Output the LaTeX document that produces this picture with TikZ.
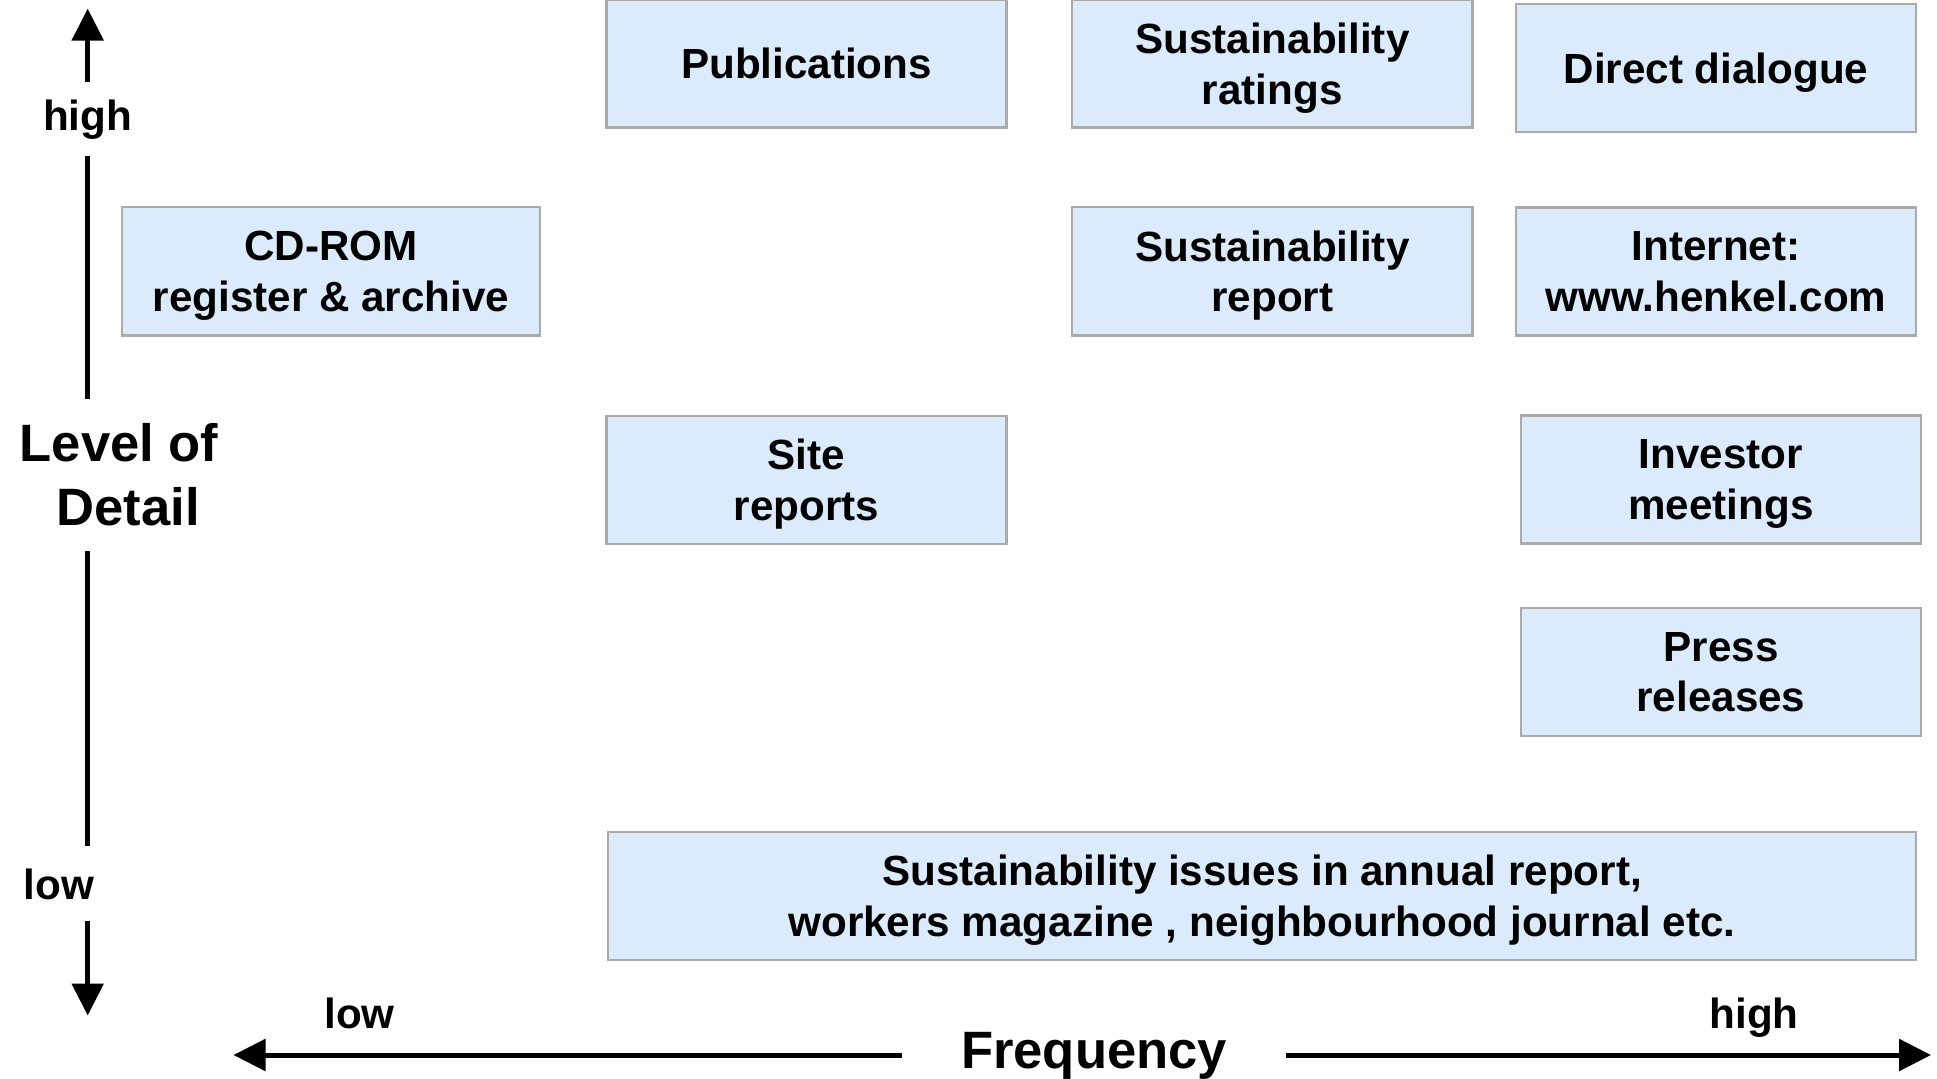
\documentclass[tikz,border=0pt]{standalone}
\usepackage{fontspec}
\setmainfont{Liberation Sans}
\usetikzlibrary{arrows.meta}
\definecolor{boxblue}{RGB}{220,235,251}
\definecolor{boxline}{RGB}{170,170,170}

\begin{document}
\begin{tikzpicture}[x=0.025cm,y=-0.025cm,
  channel/.style={draw=boxline,line width=0.06cm,fill=boxblue,minimum width=10cm,
    minimum height=3.2cm,align=center,inner sep=0pt,text depth=-0.1cm,
    font=\fontsize{30}{36}\selectfont\bfseries},
  axis/.style={line width=0.125cm},
  tip/.style={-{Triangle[length=0.8cm,width=0.78cm]}},
  scalelabel/.style={font=\fontsize{30}{36}\selectfont\bfseries,inner sep=0pt,anchor=base},
  axistitle/.style={font=\fontsize{37.4}{45.7}\selectfont\bfseries,inner sep=0pt,align=center}]
\useasboundingbox (0,0) rectangle (1937,1078);
% channels
\node[channel] (pub) at (806.5,63.5) {Publications};
\node[channel] (rating) at (1272.3,63.5) {Sustainability\\ratings};
\node[channel] (dialogue) at (1716,67.8) {Direct dialogue};
\node[channel,minimum width=10.45cm] (cdrom) at (331,271.3) {CD-ROM\\register \& archive};
\node[channel] (report) at (1272.3,271.3) {Sustainability\\report};
\node[channel] (web) at (1716,271.5) {Internet:\\www.henkel.com};
\node[channel] (site) at (806.5,480) {Site\\reports};
\node[channel] (investor) at (1721,479.5) {Investor\\meetings};
\node[channel] (press) at (1721,672) {Press\\releases};
\node[channel,minimum width=32.7cm] (annual) at (1262,896)
  {Sustainability issues in annual report,\\workers magazine , neighbourhood journal etc.};
% level of detail
\coordinate (ytop) at (87.7,8.6);
\coordinate (ybot) at (87.7,1015.5);
\node[scalelabel,outer sep=0.43cm] (yhigh) at (87.7,130) {high};
\node[axistitle,outer sep=0.61cm] (lod) at (119,475) {Level of\\\hspace*{0.46cm}Detail};
\node[scalelabel,outer sep=0.55cm] (ylow) at (59,899) {low};
\draw[axis,tip] (yhigh.north) -- (ytop);
\draw[axis] (yhigh.south) -- (yhigh.south |- lod.north);
\draw[axis] (yhigh.south |- lod.south) -- (yhigh.south |- ylow.north);
\draw[axis,tip] (yhigh.south |- ylow.south) -- (ybot);
% frequency
\coordinate (xleft) at (233.5,1055);
\coordinate (xright) at (1931,1055);
\node[axistitle,anchor=base,outer xsep=1.475cm] (freq) at (1094,1068) {Frequency};
\node[scalelabel] (xlow) at (359.5,1028) {low};
\node[scalelabel] (xhigh) at (1754,1028) {high};
\draw[axis,tip] (freq.west |- xleft) -- (xleft);
\draw[axis,tip] (freq.east |- xright) -- (xright);
\end{tikzpicture}
\end{document}
